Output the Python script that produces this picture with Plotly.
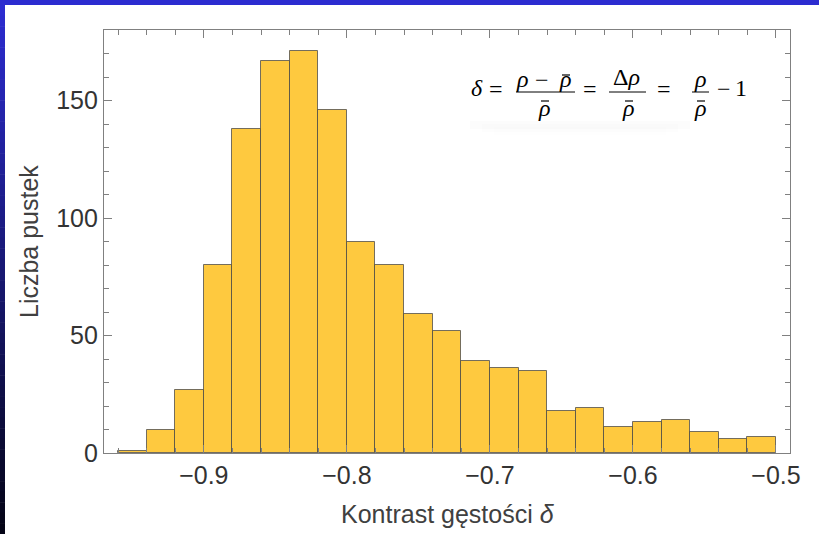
import plotly.graph_objects as go

# ---- data ----
bin_left_edges = [-0.96, -0.94, -0.92, -0.90, -0.88, -0.86, -0.84, -0.82, -0.80, -0.78, -0.76, -0.74,
                  -0.72, -0.70, -0.68, -0.66, -0.64, -0.62, -0.60, -0.58, -0.56, -0.54, -0.52]
bin_width = 0.02
counts = [1, 10, 27, 80, 138, 167, 171, 146, 90, 80, 59, 52,
          39, 36, 35, 18, 19, 11, 13, 14, 9, 6, 7]
x_title = "Kontrast gęstości <i>δ</i>"
y_title = "Liczba pustek"

centers = [e + bin_width / 2 for e in bin_left_edges]

W, H = 819, 534
ML, MR, MT, MB = 104, 29, 30, 81
PW, PH = W - ML - MR, H - MT - MB


def px(x):
    return (x - ML) / PW


def py(y):
    return (H - MB - y) / PH


fig = go.Figure()
fig.add_trace(go.Bar(
    x=centers, y=counts, width=bin_width,
    marker=dict(color="#FEC93F", line=dict(color="rgba(70,70,70,0.75)", width=1)),
    hoverinfo="x+y", showlegend=False,
))

axis_common = dict(
    showline=True, linecolor="#808080", linewidth=1.3, mirror="allticks",
    ticks="inside", ticklen=8, tickwidth=1.2, tickcolor="#808080",
    showgrid=False, zeroline=False,
    tickfont=dict(family="Liberation Sans, Arial, sans-serif", size=25, color="#333333"),
)

fig.update_xaxes(
    range=[-0.9698, -0.4902], tickmode="linear", tick0=-0.9, dtick=0.1,
    minor=dict(tick0=-0.9, dtick=0.02, ticks="inside", ticklen=5, tickcolor="#808080", tickwidth=1, showgrid=False),
    **axis_common,
)
fig.update_yaxes(
    range=[0, 180], tickmode="linear", tick0=0, dtick=50,
    minor=dict(tick0=0, dtick=10, ticks="inside", ticklen=5, tickcolor="#808080", tickwidth=1, showgrid=False),
    **axis_common,
)

shapes = []
# top blue band
shapes.append(dict(type="rect", xref="paper", yref="paper", x0=px(0), x1=px(W), y0=py(0), y1=py(5),
                   fillcolor="#2C2CD0", line=dict(width=0), layer="above"))
# left gradient band (blue -> black)
n = 50
top_rgb = (44, 44, 208)
bot_rgb = (4, 4, 22)
for i in range(n):
    t = i / (n - 1)
    c = tuple(int(round(top_rgb[k] + (bot_rgb[k] - top_rgb[k]) * t)) for k in range(3))
    y0 = 5 + (H - 5) * i / n
    y1 = 5 + (H - 5) * (i + 1) / n + 0.5
    shapes.append(dict(type="rect", xref="paper", yref="paper", x0=px(0), x1=px(5), y0=py(y0), y1=py(y1),
                       fillcolor="rgb(%d,%d,%d)" % c, line=dict(width=0), layer="above"))

# very faint shadow under the formula
for k, a in enumerate([0.012, 0.008, 0.005]):
    shapes.append(dict(type="rect", xref="paper", yref="paper", x0=px(470 + 12 * k), x1=px(690 - 12 * k),
                       y0=py(121 + 3 * k), y1=py(129 + 3 * k), fillcolor="rgba(0,0,0,%.3f)" % a,
                       line=dict(width=0), layer="below"))

# fraction bars of the formula
for (a, b) in [(516, 575), (609, 646), (692, 709)]:
    shapes.append(dict(type="line", xref="paper", yref="paper", x0=px(a), x1=px(b), y0=py(92), y1=py(92),
                       line=dict(color="black", width=1)))
# macrons over rho-bar
for (cx, cy) in [(566, 75), (545, 101), (629, 101), (701, 101)]:
    shapes.append(dict(type="line", xref="paper", yref="paper", x0=px(cx - 4), x1=px(cx + 4),
                       y0=py(cy), y1=py(cy), line=dict(color="black", width=1.2)))

serif = dict(family="Liberation Serif, Times New Roman, serif", size=24, color="black")
formula_parts = [
    ("<i>δ</i>", 477, 88),
    ("=", 496, 89),
    ("<i>ρ</i>", 522, 79),
    ("−", 542, 80),
    ("<i>ρ</i>", 565, 79),
    ("<i>ρ</i>", 544, 108),
    ("=", 590, 89),
    ("Δ<i>ρ</i>", 626, 77),
    ("<i>ρ</i>", 628, 108),
    ("=", 664, 89),
    ("<i>ρ</i>", 700, 79),
    ("<i>ρ</i>", 700, 108),
    ("−", 724, 89),
    ("1", 741, 88),
]
annotations = []
for txt, x, y in formula_parts:
    annotations.append(dict(text=txt, x=px(x), y=py(y), xref="paper", yref="paper",
                            xanchor="center", yanchor="middle", showarrow=False, font=serif))

annotations.append(dict(text=x_title, x=px(448), y=py(514), xref="paper", yref="paper",
                        xanchor="center", yanchor="middle", showarrow=False,
                        font=dict(family="Liberation Sans, Arial, sans-serif", size=25, color="#404040")))
annotations.append(dict(text=y_title, x=px(29), y=py(242), xref="paper", yref="paper", textangle=-90,
                        xanchor="center", yanchor="middle", showarrow=False,
                        font=dict(family="Liberation Sans, Arial, sans-serif", size=25, color="#404040")))

fig.update_layout(
    width=W, height=H,
    margin=dict(l=ML, r=MR, t=MT, b=MB, pad=0),
    paper_bgcolor="white", plot_bgcolor="white",
    shapes=shapes, annotations=annotations,
    bargap=0, showlegend=False,
)

fig.write_html("out.html", config={"displayModeBar": False})
